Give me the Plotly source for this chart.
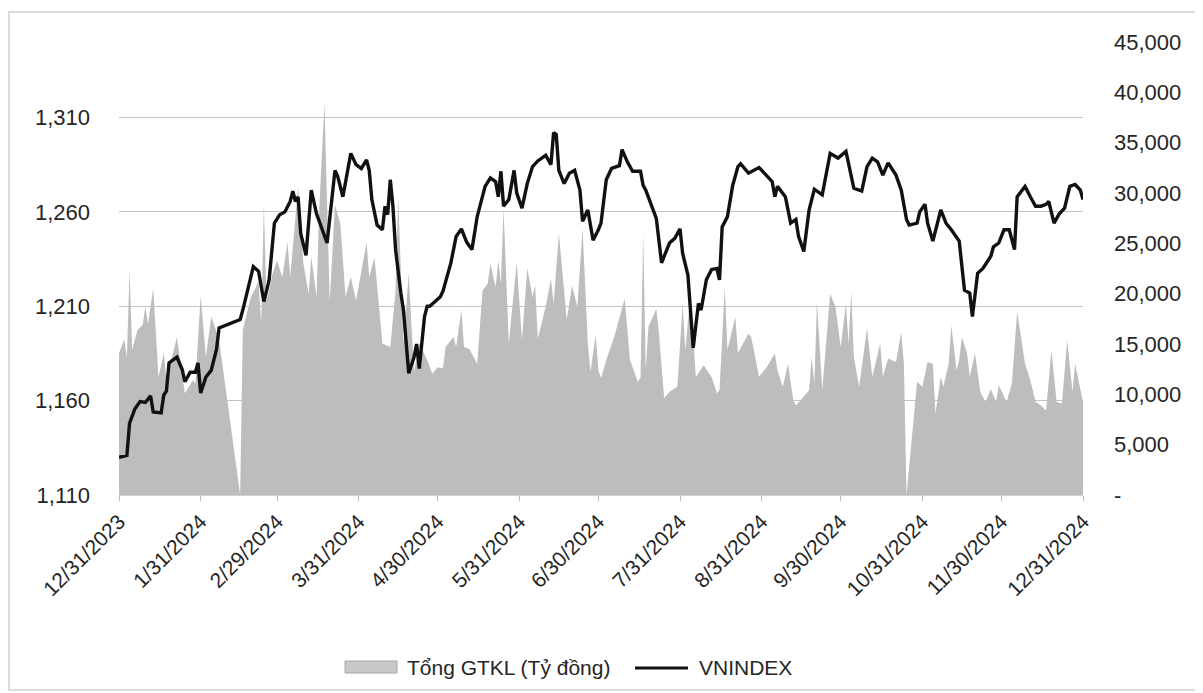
import plotly.graph_objects as go

# ---------------- data ----------------
vol_dates = [
    "2023-12-31", "2024-01-02", "2024-01-03", "2024-01-04", "2024-01-05", "2024-01-07", "2024-01-09",
    "2024-01-10", "2024-01-11", "2024-01-13", "2024-01-15", "2024-01-17", "2024-01-18", "2024-01-22",
    "2024-01-25", "2024-01-28", "2024-01-29", "2024-01-31", "2024-02-02", "2024-02-04", "2024-02-05",
    "2024-02-07", "2024-02-15", "2024-02-16", "2024-02-19", "2024-02-22", "2024-02-23", "2024-02-24",
    "2024-02-25", "2024-02-26", "2024-02-27", "2024-02-29", "2024-03-02", "2024-03-04", "2024-03-05",
    "2024-03-08", "2024-03-10", "2024-03-12", "2024-03-13", "2024-03-15", "2024-03-16", "2024-03-18",
    "2024-03-20", "2024-03-22", "2024-03-24", "2024-03-26", "2024-03-28", "2024-03-30", "2024-04-03",
    "2024-04-04", "2024-04-06", "2024-04-09", "2024-04-12", "2024-04-14", "2024-04-15", "2024-04-17",
    "2024-04-19", "2024-04-21", "2024-04-23", "2024-04-26", "2024-04-28", "2024-04-30", "2024-05-02",
    "2024-05-03", "2024-05-06", "2024-05-07", "2024-05-09", "2024-05-10", "2024-05-12", "2024-05-13",
    "2024-05-15", "2024-05-17", "2024-05-19", "2024-05-20", "2024-05-22", "2024-05-23", "2024-05-24",
    "2024-05-25", "2024-05-27", "2024-05-30", "2024-06-01", "2024-06-03", "2024-06-05", "2024-06-06",
    "2024-06-07", "2024-06-10", "2024-06-12", "2024-06-13", "2024-06-15", "2024-06-17", "2024-06-18",
    "2024-06-20", "2024-06-22", "2024-06-24", "2024-06-26", "2024-06-27", "2024-06-29", "2024-06-30",
    "2024-07-01", "2024-07-03", "2024-07-06", "2024-07-10", "2024-07-12", "2024-07-15", "2024-07-16",
    "2024-07-17", "2024-07-18", "2024-07-19", "2024-07-22", "2024-07-23", "2024-07-25", "2024-07-27",
    "2024-07-30", "2024-08-01", "2024-08-02", "2024-08-04", "2024-08-06", "2024-08-09", "2024-08-12",
    "2024-08-14", "2024-08-15", "2024-08-17", "2024-08-18", "2024-08-21", "2024-08-22", "2024-08-26",
    "2024-08-27", "2024-08-28", "2024-08-30", "2024-09-02", "2024-09-05", "2024-09-06", "2024-09-08",
    "2024-09-10", "2024-09-12", "2024-09-13", "2024-09-16", "2024-09-18", "2024-09-19", "2024-09-20",
    "2024-09-21", "2024-09-23", "2024-09-26", "2024-09-28", "2024-09-30", "2024-10-02", "2024-10-03",
    "2024-10-04", "2024-10-05", "2024-10-07", "2024-10-10", "2024-10-12", "2024-10-15", "2024-10-16",
    "2024-10-18", "2024-10-21", "2024-10-23", "2024-10-24", "2024-10-25", "2024-10-29", "2024-10-31",
    "2024-11-02", "2024-11-04", "2024-11-05", "2024-11-07", "2024-11-08", "2024-11-10", "2024-11-11",
    "2024-11-13", "2024-11-14", "2024-11-15", "2024-11-17", "2024-11-18", "2024-11-20", "2024-11-22",
    "2024-11-24", "2024-11-26", "2024-11-28", "2024-11-29", "2024-12-02", "2024-12-04", "2024-12-06",
    "2024-12-09", "2024-12-11", "2024-12-13", "2024-12-15", "2024-12-17", "2024-12-19", "2024-12-21",
    "2024-12-23", "2024-12-25", "2024-12-27", "2024-12-28", "2024-12-30", "2024-12-31",
]
vol_values = [
    14100, 15450, 13700, 22300, 14400, 16400, 16900,
    18700, 17000, 20500, 11700, 14100, 11400, 15700,
    10100, 11400, 11100, 19800, 13700, 17700, 17000,
    15400, 0, 16400, 19600, 21200, 17000, 28900,
    19300, 20300, 21700, 23300, 21650, 25100, 21650,
    30600, 23000, 20000, 23650, 19700, 28300, 38900,
    19200, 28800, 27000, 19700, 21650, 19300, 25100,
    21650, 23600, 15050, 14700, 20300, 29600, 15050,
    22000, 12200, 15050, 13400, 12050, 12700, 12600,
    14700, 15700, 14700, 18350, 14700, 14500, 14050,
    13050, 20300, 21000, 23000, 20650, 23300, 21000,
    28400, 15050, 23150, 15400, 22500, 19700, 20800,
    15550, 18700, 21500, 19000, 26000, 20300, 17400,
    20800, 18700, 26450, 15050, 12250, 15900, 12400,
    11600, 13400, 15700, 19500, 13400, 11250, 11700,
    26000, 12400, 16700, 18500, 16050, 9600, 10250,
    10750, 19000, 14400, 20000, 11700, 12900, 11700,
    10100, 10400, 20650, 14400, 17700, 14100, 16050,
    15700, 14400, 11750, 12750, 14050, 12400, 10750,
    13050, 9400, 8900, 9750, 10400, 13700, 11100,
    19200, 10400, 20000, 18700, 14700, 19000, 15000,
    20150, 13700, 10750, 16550, 11750, 15050, 11750,
    13550, 13200, 16200, 13050, 0, 11250, 10750,
    13200, 13050, 8100, 11750, 10750, 13050, 16850,
    12400, 13400, 15700, 14050, 11750, 14050, 10250,
    9250, 10500, 9250, 10900, 9250, 11100, 18200,
    13050, 11400, 9250, 8900, 8400, 14400, 9250,
    9100, 15400, 10250, 13050, 10400, 9250,
]

idx_dates = [
    "2023-12-31", "2024-01-03", "2024-01-04", "2024-01-06", "2024-01-08", "2024-01-10", "2024-01-12",
    "2024-01-13", "2024-01-16", "2024-01-17", "2024-01-18", "2024-01-19", "2024-01-22", "2024-01-24",
    "2024-01-25", "2024-01-27", "2024-01-29", "2024-01-30", "2024-01-31", "2024-02-02", "2024-02-04",
    "2024-02-06", "2024-02-07", "2024-02-15", "2024-02-16", "2024-02-18", "2024-02-20", "2024-02-22",
    "2024-02-24", "2024-02-25", "2024-02-26", "2024-02-28", "2024-03-01", "2024-03-03", "2024-03-05",
    "2024-03-06", "2024-03-07", "2024-03-08", "2024-03-09", "2024-03-11", "2024-03-13", "2024-03-15",
    "2024-03-19", "2024-03-22", "2024-03-23", "2024-03-25", "2024-03-27", "2024-03-28", "2024-03-30",
    "2024-04-01", "2024-04-03", "2024-04-04", "2024-04-05", "2024-04-07", "2024-04-09", "2024-04-10",
    "2024-04-11", "2024-04-12", "2024-04-13", "2024-04-14", "2024-04-16", "2024-04-17", "2024-04-19",
    "2024-04-21", "2024-04-22", "2024-04-23", "2024-04-25", "2024-04-26", "2024-04-27", "2024-05-01",
    "2024-05-02", "2024-05-05", "2024-05-07", "2024-05-09", "2024-05-11", "2024-05-13", "2024-05-15",
    "2024-05-18", "2024-05-20", "2024-05-22", "2024-05-23", "2024-05-24", "2024-05-25", "2024-05-27",
    "2024-05-29", "2024-05-30", "2024-06-01", "2024-06-03", "2024-06-05", "2024-06-07", "2024-06-10",
    "2024-06-12", "2024-06-13", "2024-06-14", "2024-06-15", "2024-06-17", "2024-06-19", "2024-06-21",
    "2024-06-23", "2024-06-24", "2024-06-26", "2024-06-28", "2024-06-30", "2024-07-01", "2024-07-03",
    "2024-07-05", "2024-07-08", "2024-07-09", "2024-07-11", "2024-07-13", "2024-07-16", "2024-07-17",
    "2024-07-18", "2024-07-20", "2024-07-22", "2024-07-24", "2024-07-25", "2024-07-27", "2024-07-29",
    "2024-07-31", "2024-08-01", "2024-08-03", "2024-08-05", "2024-08-07", "2024-08-08", "2024-08-10",
    "2024-08-12", "2024-08-14", "2024-08-15", "2024-08-16", "2024-08-18", "2024-08-20", "2024-08-22",
    "2024-08-23", "2024-08-26", "2024-08-30", "2024-09-01", "2024-09-04", "2024-09-05", "2024-09-06",
    "2024-09-09", "2024-09-11", "2024-09-13", "2024-09-14", "2024-09-16", "2024-09-18", "2024-09-20",
    "2024-09-23", "2024-09-26", "2024-09-29", "2024-10-02", "2024-10-03", "2024-10-05", "2024-10-08",
    "2024-10-10", "2024-10-12", "2024-10-14", "2024-10-16", "2024-10-18", "2024-10-21", "2024-10-23",
    "2024-10-25", "2024-10-26", "2024-10-29", "2024-10-30", "2024-11-01", "2024-11-02", "2024-11-04",
    "2024-11-07", "2024-11-09", "2024-11-11", "2024-11-14", "2024-11-16", "2024-11-18", "2024-11-19",
    "2024-11-21", "2024-11-23", "2024-11-26", "2024-11-27", "2024-11-29", "2024-12-01", "2024-12-03",
    "2024-12-05", "2024-12-06", "2024-12-09", "2024-12-11", "2024-12-13", "2024-12-15", "2024-12-17",
    "2024-12-18", "2024-12-20", "2024-12-22", "2024-12-24", "2024-12-26", "2024-12-28", "2024-12-30",
    "2024-12-31",
]
idx_values = [
    1130, 1131, 1148, 1155.5, 1159.5, 1159, 1162.5,
    1154, 1153.5, 1163, 1165, 1180, 1183, 1176.5,
    1170, 1175, 1175, 1180, 1164, 1172.5, 1176,
    1187, 1198.5, 1203, 1208, 1220.5, 1231, 1228.5,
    1212.5, 1218, 1224, 1254, 1258.5, 1260, 1265.5,
    1271, 1265.5, 1268, 1248.5, 1237, 1271.5, 1259,
    1243.5, 1282, 1279, 1268, 1283, 1291, 1285,
    1283, 1287.5, 1282, 1266.5, 1253, 1250.5, 1263,
    1258.5, 1277, 1263, 1240, 1217, 1208, 1174.5,
    1183, 1190, 1177, 1204.5, 1210, 1210, 1215,
    1218, 1233, 1247, 1251, 1244, 1240, 1257.5,
    1273.5, 1278, 1276, 1268, 1281.5, 1263, 1266.5,
    1282, 1270, 1262, 1275, 1284, 1287, 1290,
    1285, 1302, 1301, 1282, 1275, 1280.5, 1282,
    1271.5, 1255, 1261, 1245, 1250.5, 1254, 1277,
    1283, 1284.5, 1293, 1286.5, 1281.5, 1281.5, 1274,
    1271.5, 1264, 1256.5, 1233, 1236.5, 1243.5, 1246,
    1251, 1238, 1226.5, 1188, 1211.5, 1208, 1224,
    1229.5, 1230, 1224, 1252, 1257.5, 1274, 1284,
    1285.5, 1280.5, 1283.5, 1280.5, 1276, 1268, 1273.5,
    1268, 1254, 1256, 1247, 1239, 1261, 1272,
    1269, 1291, 1288.5, 1292, 1286, 1272.5, 1271,
    1284, 1288.5, 1286.5, 1279.5, 1286, 1279.5, 1271.5,
    1256, 1253, 1254, 1260, 1264, 1254, 1244.5,
    1261, 1254, 1250.5, 1244.5, 1218.5, 1217, 1204.5,
    1227.5, 1230, 1236.5, 1241.5, 1243.5, 1250.5, 1250.5,
    1240, 1268, 1273.5, 1268, 1263, 1263, 1264,
    1265.5, 1254, 1259, 1262, 1273.5, 1274.5, 1271.5,
    1266.5,
]

x_tick_dates = ["2023-12-31", "2024-01-31", "2024-02-29", "2024-03-31", "2024-04-30", "2024-05-31",
                "2024-06-30", "2024-07-31", "2024-08-31", "2024-09-30", "2024-10-31", "2024-11-30",
                "2024-12-31"]
x_tick_labels = ["12/31/2023", "1/31/2024", "2/29/2024", "3/31/2024", "4/30/2024", "5/31/2024",
                 "6/30/2024", "7/31/2024", "8/31/2024", "9/30/2024", "10/31/2024", "11/30/2024",
                 "12/31/2024"]
left_ticks = [1110, 1160, 1210, 1260, 1310]
left_tick_labels = ["1,110", "1,160", "1,210", "1,260", "1,310"]
right_ticks = [0, 5000, 10000, 15000, 20000, 25000, 30000, 35000, 40000, 45000]
right_tick_labels = ["-", "5,000", "10,000", "15,000", "20,000", "25,000", "30,000", "35,000",
                     "40,000", "45,000"]
series_names = ["Tổng GTKL (Tỷ đồng)", "VNINDEX"]

# ---------------- layout geometry ----------------
# the page body has an 8px margin, so the figure is sized/positioned to compensate
OFF = 8
W, H = 1203 - OFF, 693 - OFF
PL, PT, PR, PB = 119, 42, 1083, 495          # plot area in page pixels
L, T = PL - OFF, PT - OFF
PW, PH = PR - PL, PB - PT
R, B = W - L - PW, H - T - PH


def px(xp):
    return (xp - PL) / PW


def py(yp):
    return (PB - yp) / PH


FONT = "Liberation Sans, Arial, sans-serif"
TXT = "#262626"
AREA = "#bdbdbd"

fig = go.Figure()
fig.add_trace(go.Scatter(
    x=vol_dates, y=vol_values, name=series_names[0],
    mode="lines", line=dict(width=0, color=AREA),
    fill="tozeroy", fillcolor=AREA, yaxis="y", showlegend=False,
))
fig.add_trace(go.Scatter(
    x=idx_dates, y=idx_values, name=series_names[1],
    mode="lines", line=dict(width=3.4, color="#111111"), yaxis="y2", showlegend=False,
))

fig.update_layout(
    width=W, height=H,
    margin=dict(l=L, r=R, t=T, b=B, autoexpand=False),
    paper_bgcolor="white", plot_bgcolor="white",
    font=dict(family=FONT, color=TXT, size=22),
    showlegend=False,
    xaxis=dict(
        type="date", range=["2023-12-31", "2024-12-31"], automargin=False,
        tickmode="array", tickvals=x_tick_dates, ticktext=x_tick_labels,
        tickangle=-45, ticks="outside", ticklen=5, tickcolor="#bfbfbf",
        showline=True, linecolor="#d0d0d0", linewidth=1,
        showgrid=False, zeroline=False,
        tickfont=dict(size=21, family=FONT, color=TXT),
    ),
    yaxis=dict(
        side="right", range=[0, 45000], automargin=False,
        tickmode="array", tickvals=right_ticks, ticktext=right_tick_labels,
        showgrid=False, zeroline=False, showline=False, ticks="",
        ticklabelstandoff=30,
        tickfont=dict(size=22, family=FONT, color=TXT),
    ),
    yaxis2=dict(
        overlaying="y", side="left", range=[1110, 1350], automargin=False,
        tickmode="array", tickvals=left_ticks, ticktext=left_tick_labels,
        showgrid=True, gridcolor="#c4c4c4", gridwidth=1,
        zeroline=False, showline=False, ticks="",
        ticklabelstandoff=28,
        tickfont=dict(size=22, family=FONT, color=TXT),
    ),
)

# outer chart-area frame
fig.add_shape(type="rect", xref="paper", yref="paper",
              x0=px(9), x1=px(1196), y0=py(690), y1=py(12),
              line=dict(color="#cfcfcf", width=1.5), fillcolor="rgba(0,0,0,0)", layer="below")

# legend (drawn manually to match the reference spacing)
fig.add_shape(type="rect", xref="paper", yref="paper",
              x0=px(345), x1=px(397), y0=py(673), y1=py(661),
              line=dict(color="#a8a8a8", width=1), fillcolor="#c8c8c8")
fig.add_annotation(xref="paper", yref="paper", x=px(405), y=py(667), xanchor="left", yanchor="middle",
                   text=series_names[0], showarrow=False, font=dict(size=21, family=FONT, color=TXT))
fig.add_shape(type="line", xref="paper", yref="paper",
              x0=px(635), x1=px(688), y0=py(668), y1=py(668),
              line=dict(color="#111111", width=3))
fig.add_annotation(xref="paper", yref="paper", x=px(697), y=py(667), xanchor="left", yanchor="middle",
                   text=series_names[1], showarrow=False, font=dict(size=21, family=FONT, color=TXT))

fig.write_html("out.html")
